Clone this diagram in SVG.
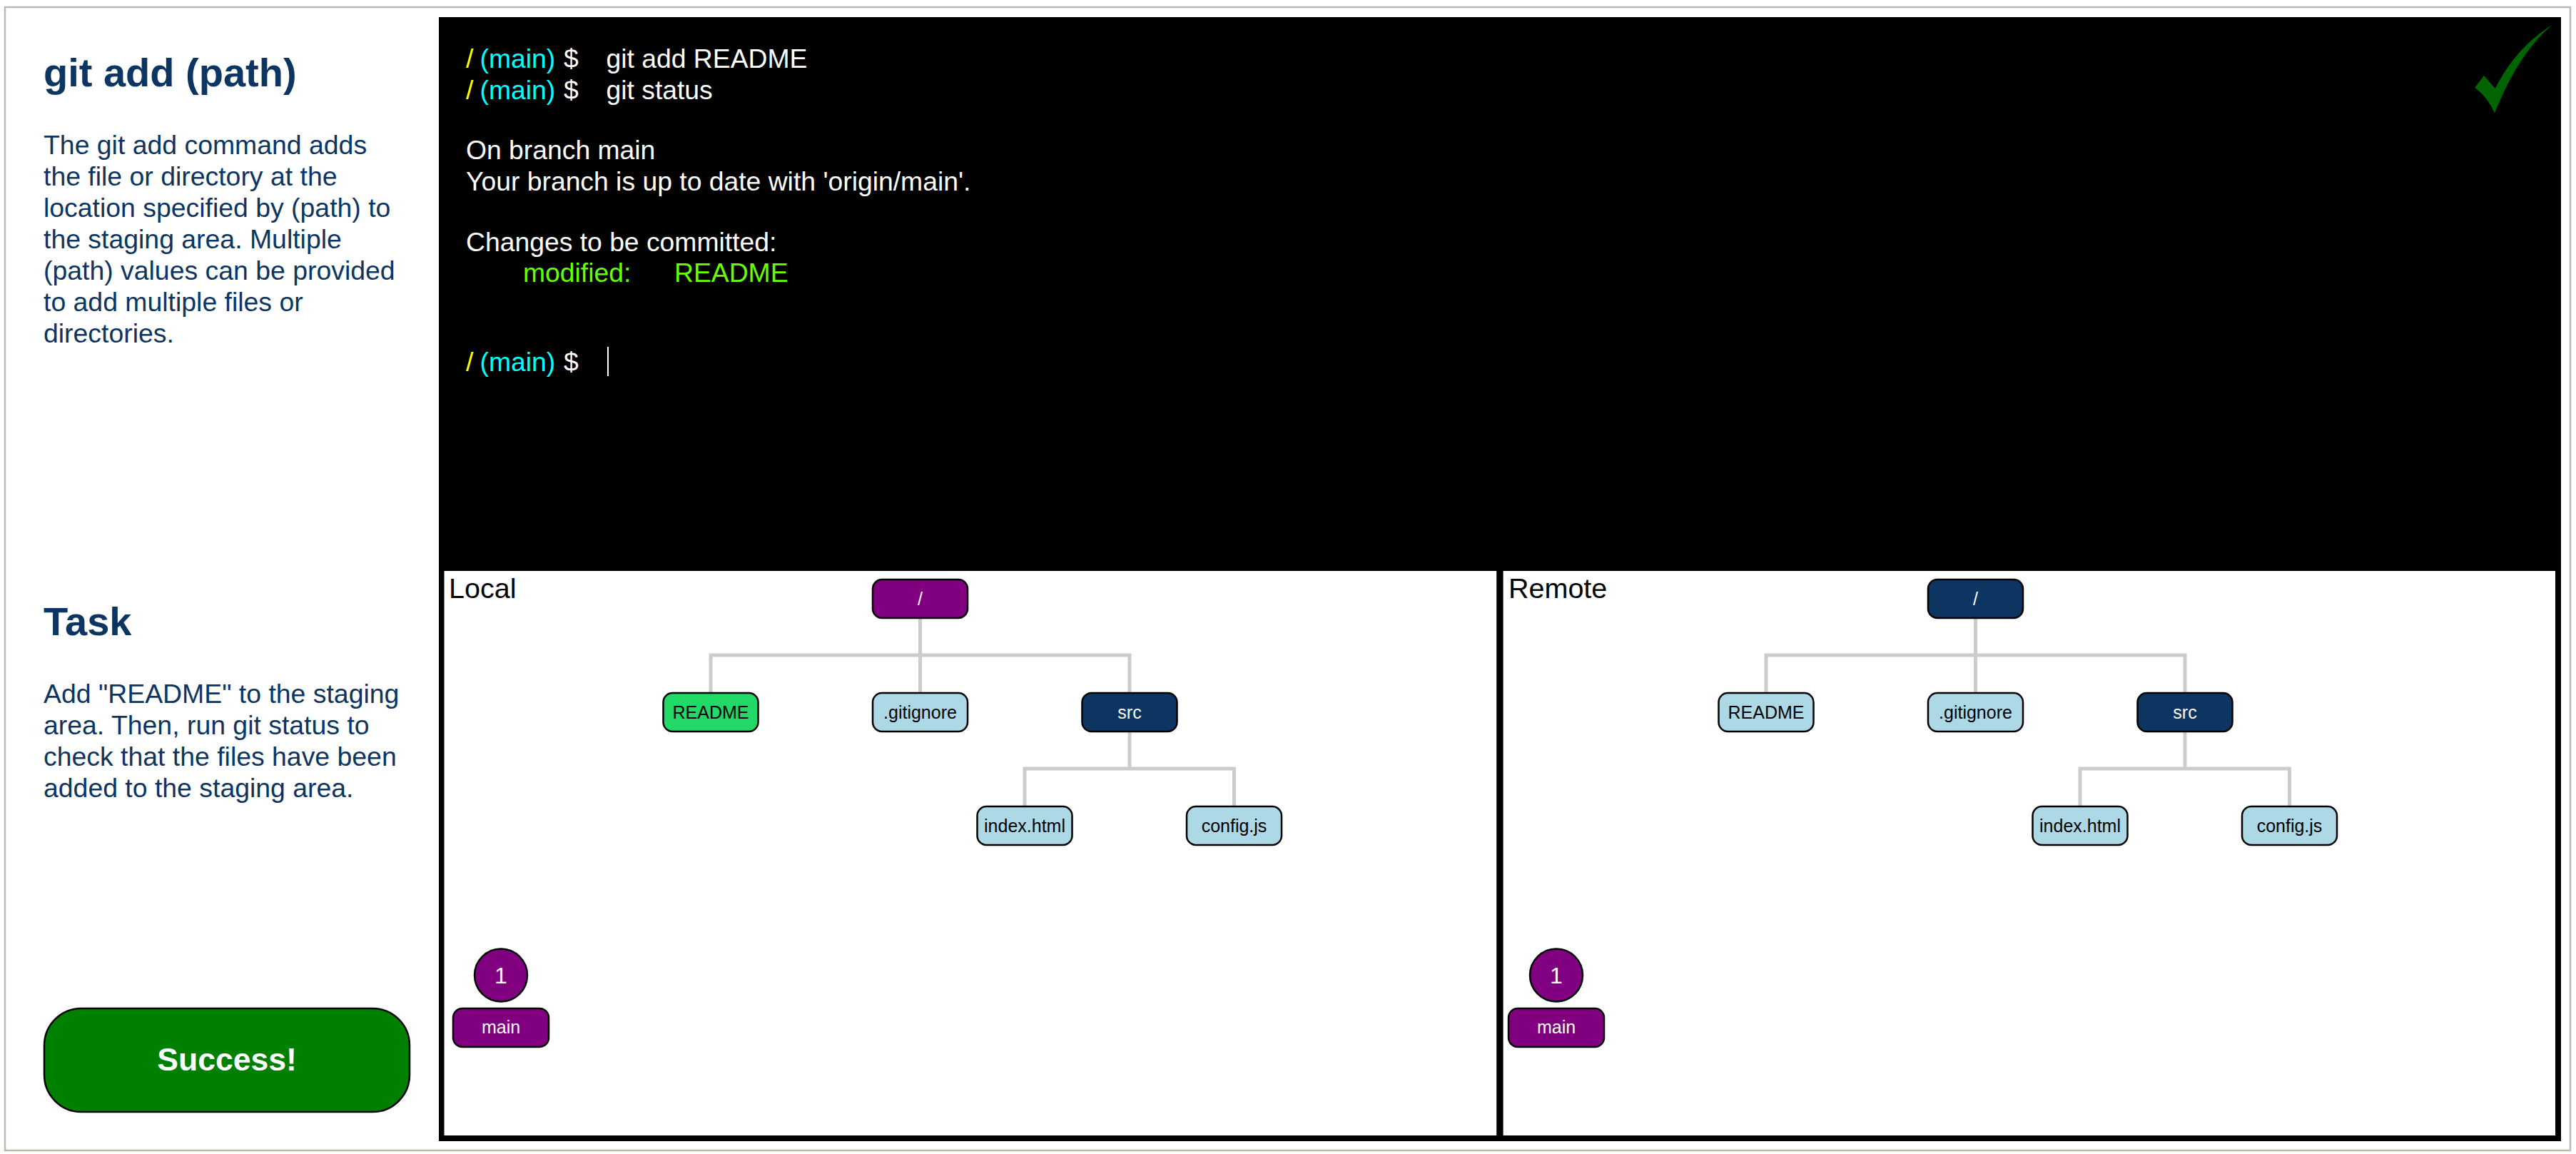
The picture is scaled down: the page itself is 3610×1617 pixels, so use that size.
<svg xmlns="http://www.w3.org/2000/svg" width="3610" height="1617" viewBox="0 0 3610 1617">
<style>
text{font-family:"Liberation Sans",Arial,sans-serif}
.h{font-size:56px;font-weight:700;fill:#0d3562}
.b{font-size:37.4px;fill:#0d3562}
.t{font-size:37.3px;fill:#fff}
.y{fill:#ffff00}.c{fill:#00ffff}.g{fill:#66ff00}
.pl{font-size:39.5px;fill:#000}
.n{stroke:#000;stroke-width:2.5}
.nt{font-size:25px;text-anchor:middle}
.lb{fill:#add8e6}.dk{fill:#0d3562}.pu{fill:#800080}.gr{fill:#22d866}
.w{fill:#fff}.k{fill:#000}
.ln{fill:none;stroke:#ccc;stroke-width:5}
</style>
<rect width="3610" height="1617" fill="#fff"/>
<rect x="7" y="10" width="3595" height="1602" fill="#fff" stroke="#b5bdae" stroke-width="2.5"/>
<rect x="615" y="24" width="2974" height="776" fill="#000"/>
<rect x="615" y="800" width="2974" height="799" fill="#000"/>
<rect x="622.5" y="800" width="1474.7" height="791" fill="#fff"/>
<rect x="2106.6" y="800" width="1474.4" height="791" fill="#fff"/>
<g id="info">
<text class="h" x="61" y="121">git add (path)</text>
<text class="b" x="61" y="216">The git add command adds</text>
<text class="b" x="61" y="260">the file or directory at the</text>
<text class="b" x="61" y="304">location specified by (path) to</text>
<text class="b" x="61" y="348">the staging area. Multiple</text>
<text class="b" x="61" y="392">(path) values can be provided</text>
<text class="b" x="61" y="436">to add multiple files or</text>
<text class="b" x="61" y="480">directories.</text>
<text class="h" x="61" y="890">Task</text>
<text class="b" x="61" y="985">Add "README" to the staging</text>
<text class="b" x="61" y="1029">area. Then, run git status to</text>
<text class="b" x="61" y="1073">check that the files have been</text>
<text class="b" x="61" y="1117">added to the staging area.</text>
</g>
<g id="success">
<rect x="62" y="1413" width="512" height="145" rx="52" fill="#008000" stroke="#000" stroke-width="2.5"/>
<text x="318" y="1500" font-size="44.5" font-weight="700" fill="#fff" text-anchor="middle">Success!</text>
</g>
<g id="terminal">
<text class="t" y="95"><tspan class="y" x="653">/</tspan><tspan class="c" x="672.5">(main)</tspan><tspan x="790">$</tspan><tspan x="849.5">git add README</tspan></text>
<text class="t" y="139"><tspan class="y" x="653">/</tspan><tspan class="c" x="672.5">(main)</tspan><tspan x="790">$</tspan><tspan x="849.5">git status</tspan></text>
<text class="t" x="653" y="223">On branch main</text>
<text class="t" x="653" y="267">Your branch is up to date with 'origin/main'.</text>
<text class="t" x="653" y="352">Changes to be committed:</text>
<text class="t g" x="733" y="395">modified:</text>
<text class="t g" x="945" y="395">README</text>
<text class="t" y="520"><tspan class="y" x="653">/</tspan><tspan class="c" x="672.5">(main)</tspan><tspan x="790">$</tspan></text>
<rect x="851" y="486" width="2" height="41" fill="#fff"/>
<path d="M3468.3 122.7L3481 106L3496.7 124Q3526 66 3577.3 34.3Q3530 73 3496 158.3Q3486 136 3468.3 122.7Z" fill="#006400"/>
</g>
<g id="connectors">
<path class="ln" d="M1289.5 866V918M996 971V918H1583V971M1289.5 918V971M1583 1025V1077M1436 1130V1077H1729.5V1130"/>
<path class="ln" d="M2768.5 866V918M2475 971V918H3062V971M2768.5 918V971M3062 1025V1077M2915 1130V1077H3208.5V1130"/>
</g>
<g id="local">
<text class="pl" x="629" y="838">Local</text>
<g id="l-root"><rect class="n pu" x="1223" y="812" width="133" height="54" rx="13"/><text class="nt w" x="1289.5" y="848">/</text></g>
<g id="l-readme"><rect class="n gr" x="929.5" y="971" width="133" height="54" rx="13"/><text class="nt k" x="996" y="1007">README</text></g>
<g id="l-gitignore"><rect class="n lb" x="1223" y="971" width="133" height="54" rx="13"/><text class="nt k" x="1289.5" y="1007">.gitignore</text></g>
<g id="l-src"><rect class="n dk" x="1516.5" y="971" width="133" height="54" rx="13"/><text class="nt w" x="1583" y="1007">src</text></g>
<g id="l-index"><rect class="n lb" x="1369.5" y="1130" width="133" height="54" rx="13"/><text class="nt k" x="1436" y="1166">index.html</text></g>
<g id="l-config"><rect class="n lb" x="1663" y="1130" width="133" height="54" rx="13"/><text class="nt k" x="1729.5" y="1166">config.js</text></g>
<g id="l-commit"><circle class="n pu" cx="702" cy="1366.5" r="37"/><text class="w" x="702" y="1378" font-size="32" text-anchor="middle">1</text></g>
<g id="l-main"><rect class="n pu" x="635" y="1413" width="134" height="54" rx="13"/><text class="nt w" x="702" y="1448">main</text></g>
</g>
<g id="remote">
<text class="pl" x="2114" y="838">Remote</text>
<g id="r-root"><rect class="n dk" x="2702" y="812" width="133" height="54" rx="13"/><text class="nt w" x="2768.5" y="848">/</text></g>
<g id="r-readme"><rect class="n lb" x="2408.5" y="971" width="133" height="54" rx="13"/><text class="nt k" x="2475" y="1007">README</text></g>
<g id="r-gitignore"><rect class="n lb" x="2702" y="971" width="133" height="54" rx="13"/><text class="nt k" x="2768.5" y="1007">.gitignore</text></g>
<g id="r-src"><rect class="n dk" x="2995.5" y="971" width="133" height="54" rx="13"/><text class="nt w" x="3062" y="1007">src</text></g>
<g id="r-index"><rect class="n lb" x="2848.5" y="1130" width="133" height="54" rx="13"/><text class="nt k" x="2915" y="1166">index.html</text></g>
<g id="r-config"><rect class="n lb" x="3142" y="1130" width="133" height="54" rx="13"/><text class="nt k" x="3208.5" y="1166">config.js</text></g>
<g id="r-commit"><circle class="n pu" cx="2181" cy="1366.5" r="37"/><text class="w" x="2181" y="1378" font-size="32" text-anchor="middle">1</text></g>
<g id="r-main"><rect class="n pu" x="2114" y="1413" width="134" height="54" rx="13"/><text class="nt w" x="2181" y="1448">main</text></g>
</g>
</svg>
